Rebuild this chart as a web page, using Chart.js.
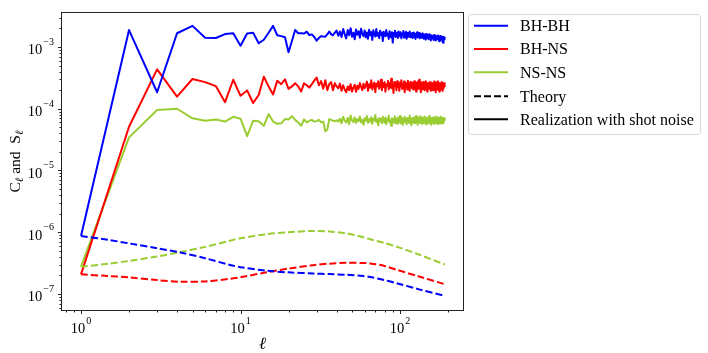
<!DOCTYPE html>
<html><head><meta charset="utf-8">
<script src="https://cdn.jsdelivr.net/npm/chart.js@4.4.1/dist/chart.umd.min.js"></script>
<style>html,body{margin:0;padding:0;background:#fff;}canvas{display:block;}</style>
</head><body>
<canvas id="c" width="708" height="353"></canvas>
<script>
// ---- data ----
// realization with shot noise, multipoles l = 1 .. 191
const bhbhReal = [
8.7e-7,1.88e-3,1.85e-4,1.67e-3,2.2e-3,1.41e-3,1.40e-3,1.62e-3,1.67e-3,1.05e-3,1.66e-3,1.70e-3,1.15e-3,1.31e-3,1.70e-3,2.2e-3,1.55e-3,1.50e-3,1.44e-3,8.2e-4,
1.25e-3,1.88e-3,1.67e-3,1.67e-3,1.65e-3,1.77e-3,1.56e-3,1.60e-3,1.45e-3,1.27e-3,1.40e-3,1.50e-3,1.48e-3,1.47e-3,1.60e-3,1.78e-3,1.60e-3,1.55e-3,1.70e-3,1.85e-3,
1.52e-3,1.78e-3,1.45e-3,1.95e-3,1.62e-3,1.38e-3,1.88e-3,1.55e-3,2.02e-3,1.47e-3,1.70e-3,1.33e-3,1.92e-3,1.58e-3,1.80e-3,1.41e-3,1.97e-3,1.63e-3,1.50e-3,1.85e-3,
1.44e-3,1.72e-3,1.36e-3,1.90e-3,1.55e-3,1.74e-3,1.30e-3,1.86e-3,1.60e-3,1.48e-3,1.95e-3,1.52e-3,1.68e-3,1.39e-3,1.83e-3,1.57e-3,1.71e-3,1.25e-3,1.77e-3,1.62e-3,
1.49e-3,1.88e-3,1.54e-3,1.66e-3,1.35e-3,1.80e-3,1.58e-3,1.43e-3,1.74e-3,1.18e-3,1.69e-3,1.52e-3,1.84e-3,1.45e-3,1.62e-3,1.71e-3,1.40e-3,1.78e-3,1.56e-3,1.49e-3,
1.73e-3,1.38e-3,1.64e-3,1.55e-3,1.82e-3,1.42e-3,1.67e-3,1.50e-3,1.76e-3,1.36e-3,1.61e-3,1.70e-3,1.47e-3,1.58e-3,1.79e-3,1.44e-3,1.63e-3,1.52e-3,1.68e-3,1.40e-3,
1.57e-3,1.72e-3,1.46e-3,1.60e-3,1.35e-3,1.66e-3,1.53e-3,1.74e-3,1.43e-3,1.59e-3,1.48e-3,1.69e-3,1.38e-3,1.62e-3,1.51e-3,1.56e-3,1.41e-3,1.65e-3,1.47e-3,1.58e-3,
1.36e-3,1.60e-3,1.49e-3,1.55e-3,1.32e-3,1.63e-3,1.45e-3,1.52e-3,1.40e-3,1.58e-3,1.34e-3,1.50e-3,1.61e-3,1.39e-3,1.47e-3,1.28e-3,1.54e-3,1.43e-3,1.49e-3,1.37e-3,
1.52e-3,1.30e-3,1.46e-3,1.56e-3,1.38e-3,1.44e-3,1.27e-3,1.51e-3,1.40e-3,1.47e-3,1.33e-3,1.53e-3,1.42e-3,1.36e-3,1.49e-3,1.24e-3,1.45e-3,1.39e-3,1.50e-3,1.31e-3,
1.43e-3,1.48e-3,1.35e-3,1.41e-3,1.22e-3,1.17e-3,1.46e-3,1.38e-3,1.33e-3,1.42e-3,1.47e-3];
const bhnsReal = [
2.08e-7,5.1e-5,4.35e-4,1.57e-4,3.03e-4,2.7e-4,2.33e-4,1.28e-4,2.95e-4,1.62e-4,1.98e-4,1.24e-4,1.67e-4,3.3e-4,2.3e-4,1.7e-4,2.85e-4,2.5e-4,3.0e-4,2.1e-4,
2.3e-4,2.58e-4,2.3e-4,1.9e-4,2.58e-4,2.4e-4,2.2e-4,2.5e-4,2.85e-4,3.2e-4,2.4e-4,2.8e-4,2.1e-4,2.9e-4,2.0e-4,2.5e-4,2.7e-4,2.0e-4,2.6e-4,2.3e-4,
2.15e-4,2.55e-4,1.95e-4,2.40e-4,2.05e-4,1.85e-4,2.30e-4,2.00e-4,2.50e-4,1.90e-4,2.20e-4,2.45e-4,1.88e-4,2.35e-4,2.10e-4,2.60e-4,2.25e-4,2.00e-4,2.55e-4,2.15e-4,
2.40e-4,2.75e-4,1.95e-4,2.50e-4,2.20e-4,2.90e-4,2.05e-4,2.45e-4,2.65e-4,1.85e-4,2.55e-4,2.30e-4,2.80e-4,2.10e-4,2.40e-4,2.95e-4,2.00e-4,2.60e-4,2.25e-4,2.70e-4,
1.90e-4,2.50e-4,2.35e-4,2.85e-4,2.05e-4,2.60e-4,2.20e-4,3.05e-4,2.15e-4,2.45e-4,1.80e-4,2.70e-4,2.35e-4,2.55e-4,2.00e-4,2.80e-4,2.25e-4,2.50e-4,1.95e-4,2.65e-4,
2.30e-4,2.90e-4,2.10e-4,2.45e-4,2.20e-4,2.75e-4,1.85e-4,2.55e-4,2.35e-4,2.60e-4,2.05e-4,2.85e-4,2.25e-4,2.40e-4,1.95e-4,2.70e-4,2.30e-4,2.50e-4,2.15e-4,2.65e-4,
2.05e-4,2.45e-4,2.80e-4,2.20e-4,2.55e-4,1.90e-4,2.60e-4,2.35e-4,2.75e-4,2.10e-4,2.40e-4,2.95e-4,2.20e-4,2.50e-4,1.85e-4,2.65e-4,2.30e-4,2.45e-4,2.05e-4,2.70e-4,
2.25e-4,2.55e-4,2.00e-4,2.40e-4,2.80e-4,2.15e-4,2.50e-4,1.90e-4,2.60e-4,2.30e-4,2.45e-4,2.10e-4,2.70e-4,2.20e-4,2.55e-4,1.95e-4,2.40e-4,2.65e-4,2.15e-4,2.45e-4,
2.00e-4,2.60e-4,2.30e-4,2.75e-4,2.10e-4,2.45e-4,1.85e-4,2.55e-4,2.25e-4,2.65e-4,2.05e-4,2.40e-4,2.80e-4,2.15e-4,2.50e-4,1.90e-4,2.35e-4,2.60e-4,2.20e-4,2.45e-4,
2.05e-4,2.70e-4,2.30e-4,2.50e-4,1.95e-4,2.40e-4,2.60e-4,2.15e-4,2.45e-4,2.30e-4,2.65e-4];
const nsnsReal = [
2.77e-7,3.44e-5,9.55e-5,1.0e-4,7.0e-5,6.4e-5,6.7e-5,6.2e-5,7.4e-5,6.9e-5,3.6e-5,6.4e-5,6.3e-5,5.3e-5,8.2e-5,6.2e-5,5.7e-5,5.8e-5,6.8e-5,6.7e-5,
7.6e-5,6.6e-5,6.0e-5,5.3e-5,6.7e-5,6.0e-5,6.4e-5,6.6e-5,6.2e-5,6.3e-5,6.6e-5,6.0e-5,6.2e-5,4.3e-5,4.6e-5,6.8e-5,6.6e-5,6.4e-5,6.3e-5,6.5e-5,
6.2e-5,6.9e-5,5.8e-5,7.4e-5,6.4e-5,6.0e-5,7.1e-5,5.6e-5,7.8e-5,6.5e-5,6.1e-5,7.2e-5,5.9e-5,6.8e-5,6.3e-5,7.5e-5,6.0e-5,6.6e-5,5.5e-5,7.0e-5,
6.4e-5,7.6e-5,5.9e-5,6.8e-5,6.2e-5,7.3e-5,5.7e-5,6.9e-5,6.5e-5,7.9e-5,6.1e-5,6.7e-5,5.4e-5,7.1e-5,6.3e-5,6.9e-5,5.8e-5,7.4e-5,6.6e-5,6.0e-5,
7.2e-5,5.6e-5,6.8e-5,6.4e-5,7.7e-5,6.0e-5,6.5e-5,5.3e-5,7.0e-5,6.2e-5,6.9e-5,5.9e-5,7.5e-5,6.3e-5,6.7e-5,5.7e-5,7.2e-5,6.4e-5,6.1e-5,7.6e-5,
5.8e-5,6.6e-5,7.0e-5,5.5e-5,6.8e-5,6.3e-5,7.4e-5,6.0e-5,6.7e-5,5.6e-5,7.1e-5,6.4e-5,6.9e-5,5.9e-5,7.8e-5,6.2e-5,6.6e-5,5.4e-5,7.0e-5,6.5e-5,
6.1e-5,7.3e-5,5.8e-5,6.9e-5,6.4e-5,7.6e-5,6.0e-5,6.7e-5,5.5e-5,7.2e-5,6.3e-5,6.8e-5,5.9e-5,7.5e-5,6.2e-5,6.6e-5,5.7e-5,7.1e-5,6.4e-5,6.9e-5,
5.8e-5,7.4e-5,6.3e-5,6.0e-5,7.0e-5,5.6e-5,6.8e-5,6.5e-5,7.3e-5,5.9e-5,6.7e-5,6.2e-5,7.7e-5,6.1e-5,6.6e-5,5.5e-5,7.1e-5,6.4e-5,6.9e-5,5.8e-5,
7.2e-5,6.3e-5,6.7e-5,5.7e-5,7.0e-5,6.1e-5,7.5e-5,6.4e-5,5.9e-5,6.8e-5,6.2e-5,7.3e-5,5.6e-5,6.9e-5,6.5e-5,7.1e-5,5.8e-5,6.6e-5,6.3e-5,7.4e-5,
6.0e-5,6.8e-5,5.7e-5,7.1e-5,6.4e-5,6.2e-5,6.9e-5,5.9e-5,7.0e-5,6.5e-5,6.9e-5];

// theory curves, sampled at these multipoles
const theoryEll  = [1, 1.5, 2, 3, 4.2, 6, 8.6, 10, 14.6, 20, 28.6, 36, 46, 59, 65, 80, 95, 130, 191];
const bhbhTheory = [8.7e-7,7.5e-7,6.6e-7,5.5e-7,4.7e-7,3.8e-7,2.95e-7,2.72e-7,2.38e-7,2.24e-7,2.15e-7,2.1e-7,2.05e-7,1.95e-7,1.89e-7,1.68e-7,1.5e-7,1.2e-7,9.3e-8];
const bhnsTheory = [2.08e-7,1.95e-7,1.86e-7,1.68e-7,1.58e-7,1.6e-7,1.76e-7,1.87e-7,2.25e-7,2.58e-7,2.93e-7,3.1e-7,3.2e-7,3.18e-7,3.13e-7,2.85e-7,2.47e-7,1.94e-7,1.44e-7];
const nsnsTheory = [2.77e-7,3.1e-7,3.43e-7,4.05e-7,4.77e-7,5.8e-7,7.3e-7,8.0e-7,9.3e-7,1.0e-6,1.05e-6,1.03e-6,9.6e-7,8.3e-7,7.7e-7,6.7e-7,5.85e-7,4.4e-7,3.0e-7];

// tick labels (powers of ten) and texts
const xTickExps = [0, 1, 2];
const yTickExps = [-7, -6, -5, -4, -3];
const seriesNames = ['BH-BH', 'BH-NS', 'NS-NS'];
const styleNames = ['Theory', 'Realization with shot noise'];
const xTitle = 'ℓ';
const yTitleParts = ['C', 'ℓ', ' and  S', 'ℓ'];

// ---- styling ----
const COLORS = ['#0000ff', '#ff0000', '#9acd32'];
const SERIF = '"Liberation Serif", "Times New Roman", serif';
const ell = bhbhReal.map((_, i) => i + 1);
const pts = (xs, ys) => ys.map((y, i) => ({x: xs[i], y}));

const theoryDs = (ys, c) => ({data: pts(theoryEll, ys), borderColor: c, borderWidth: 2, borderDash: [7, 3],
  pointRadius: 0, tension: 0.3, borderCapStyle: 'butt', fill: false});
const realDs = (ys, c) => ({data: pts(ell, ys), borderColor: c, borderWidth: 2, pointRadius: 0,
  tension: 0, borderJoinStyle: 'round', fill: false});

const decor = {
  id: 'decor',
  afterDatasetsDraw(chart) {
    const {ctx, chartArea: a, scales: {x, y}} = chart;
    ctx.save();
    const ink = '#222';
    // frame
    ctx.strokeStyle = ink; ctx.lineWidth = 1;
    ctx.strokeRect(a.left - 0.5, a.top - 0.5, a.right - a.left + 1, a.bottom - a.top + 1);
    // x ticks
    ctx.beginPath();
    for (let d = 0.1; d <= 1000; d *= 10) {
      for (let k = 1; k <= 9; k++) {
        const v = k * d;
        if (v < x.min || v > x.max) continue;
        const px = Math.round(x.getPixelForValue(v)) + 0.5;
        const len = k === 1 ? 3.5 : 2;
        ctx.moveTo(px, a.bottom + 0.5); ctx.lineTo(px, a.bottom + 0.5 + len);
      }
    }
    // y ticks
    for (let e = -9; e <= -2; e++) {
      for (let k = 1; k <= 9; k++) {
        const v = k * Math.pow(10, e);
        if (v < y.min || v > y.max) continue;
        const py = Math.round(y.getPixelForValue(v)) + 0.5;
        const len = k === 1 ? 3.5 : 2;
        ctx.moveTo(a.left - 0.5, py); ctx.lineTo(a.left - 0.5 - len, py);
      }
    }
    ctx.stroke();

    const MAIN = '14.5px ' + SERIF, SUP = '10px ' + SERIF;
    const pow = (exp, px, base, align) => {
      const es = exp < 0 ? '\u2212' + (-exp) : String(exp);
      ctx.font = MAIN; const w1 = ctx.measureText('10').width;
      ctx.font = SUP; const w2 = ctx.measureText(es).width;
      const tot = w1 + 1 + w2;
      const x0 = align === 'center' ? px - tot / 2 : px - tot;
      ctx.textAlign = 'left'; ctx.textBaseline = 'alphabetic'; ctx.fillStyle = '#000';
      ctx.font = MAIN; ctx.fillText('10', x0, base);
      ctx.font = SUP; ctx.fillText(es, x0 + w1 + 1, base - 9.5);
    };
    xTickExps.forEach(e => pow(e, x.getPixelForValue(Math.pow(10, e)), a.bottom + 23, 'center'));
    yTickExps.forEach(e => pow(e, a.left - 8, y.getPixelForValue(Math.pow(10, e)) + 7.5, 'right'));

    // x title
    ctx.font = 'italic 17px ' + SERIF; ctx.textAlign = 'center'; ctx.fillStyle = '#000';
    ctx.fillText(xTitle, (a.left + a.right) / 2, 349);

    // y title (rotated)
    ctx.save();
    ctx.translate(20, (a.top + a.bottom) / 2);
    ctx.rotate(-Math.PI / 2);
    const fonts = ['15.5px ' + SERIF, 'italic 11px ' + SERIF, '15.5px ' + SERIF, 'italic 11px ' + SERIF];
    const offs = [0, 3, 0, 3];
    let tw = 0;
    const ws = yTitleParts.map((t, i) => { ctx.font = fonts[i]; const w = ctx.measureText(t).width; tw += w; return w; });
    let cx = -tw / 2;
    ctx.textAlign = 'left';
    yTitleParts.forEach((t, i) => { ctx.font = fonts[i]; ctx.fillText(t, cx, offs[i]); cx += ws[i]; });
    ctx.restore();

    // legend
    const L = 468.5, T = 14.5, R = 700.5, B = 134.5;
    ctx.beginPath();
    ctx.roundRect(L, T, R - L, B - T, 3);
    ctx.fillStyle = 'rgba(255,255,255,0.8)'; ctx.fill();
    ctx.strokeStyle = '#d6d6d6'; ctx.lineWidth = 1; ctx.stroke();
    const rows = [25.7, 49, 72.3, 96.3, 119.3];
    const items = [
      ...seriesNames.map((n, i) => ({n, c: COLORS[i], dash: []})),
      {n: styleNames[0], c: '#000', dash: [7, 3]},
      {n: styleNames[1], c: '#000', dash: []}];
    items.forEach((it, i) => {
      ctx.beginPath(); ctx.setLineDash(it.dash); ctx.lineWidth = 2; ctx.strokeStyle = it.c;
      ctx.moveTo(474, rows[i]); ctx.lineTo(508, rows[i]); ctx.stroke();
      ctx.setLineDash([]);
      ctx.font = '16px ' + SERIF; ctx.fillStyle = '#000'; ctx.textAlign = 'left'; ctx.textBaseline = 'middle';
      ctx.fillText(it.n, 520, rows[i] + 1);
    });
    ctx.restore();
  }
};

new Chart(document.getElementById('c'), {
  type: 'line',
  data: {datasets: [
    theoryDs(bhbhTheory, COLORS[0]), theoryDs(bhnsTheory, COLORS[1]), theoryDs(nsnsTheory, COLORS[2]),
    realDs(bhbhReal, COLORS[0]), realDs(bhnsReal, COLORS[1]), realDs(nsnsReal, COLORS[2])
  ]},
  options: {
    responsive: false, animation: false, devicePixelRatio: 1,
    layout: {padding: {left: 62, right: 245, top: 13, bottom: 43}},
    plugins: {legend: {display: false}, tooltip: {enabled: false}},
    scales: {
      x: {type: 'logarithmic', min: 0.76, max: 248.2, display: false},
      y: {type: 'logarithmic', min: 5.506e-8, max: 3.553e-3, display: false}
    }
  },
  plugins: [decor]
});
</script>
</body></html>
